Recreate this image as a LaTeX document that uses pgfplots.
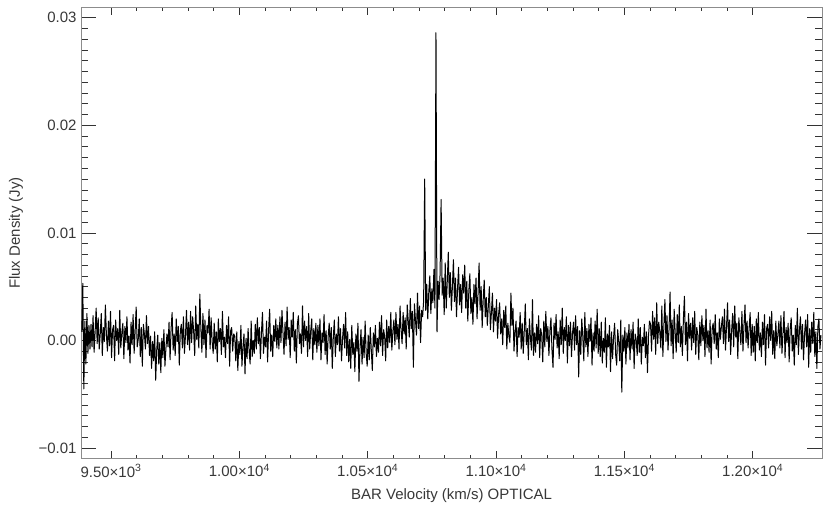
\documentclass[border=0pt]{standalone}
\usepackage{pgfplots}
\pgfplotsset{compat=1.18}
\usepackage{fontspec}
\setmainfont{Liberation Sans}
\begin{document}
\begin{tikzpicture}
\path[use as bounding box] (0,0) rectangle (830pt,507pt);
\begin{axis}[
  at={(81pt,49pt)}, anchor=south west,
  width=741pt, height=450pt, scale only axis,
  xmin=9383, xmax=12270, ymin=-0.01093, ymax=0.0309,
  scaled ticks=false,
  xtick={9500,10000,10500,11000,11500,12000},
  xticklabels={9.50×10\textsuperscript{3},1.00×10\textsuperscript{4},1.05×10\textsuperscript{4},1.10×10\textsuperscript{4},1.15×10\textsuperscript{4},1.20×10\textsuperscript{4}},
  minor x tick num=4,
  ytick={-0.01,0,0.01,0.02,0.03},
  yticklabels={−0.01,0.00,0.01,0.02,0.03},
  minor y tick num=9,
  tick align=inside,
  axis line style={draw=black!45, line width=1pt},
  xtick style={draw=black!80, line width=0.6pt, /pgfplots/major tick length=7pt, /pgfplots/minor tick length=3.5pt},
  ytick style={draw=black!80, line width=0.6pt, /pgfplots/major tick length=15pt, /pgfplots/minor tick length=7pt},
  every tick label/.append style={font=\fontsize{15}{18}\selectfont, text=black!78},
  xticklabel style={anchor=north, yshift=-3pt},
  yticklabel style={anchor=east, xshift=-1pt},
  xlabel={BAR Velocity (km/s) OPTICAL},
  ylabel={Flux Density (Jy)},
  label style={font=\fontsize{15}{18}\selectfont, text=black!78},
  xlabel style={at={(axis description cs:0.5,0)}, anchor=base, yshift=-41pt},
  ylabel style={at={(axis description cs:-0.0877,0.5)}, anchor=center},
]
\addplot[black, line width=1pt, line join=round, mark=none] coordinates {
(9386,8e-4) (9390,53e-4) (9394,-45e-4) (9398,18e-4) (9402,-22e-4) (9406,25e-4) (9410,-12e-4) (9414,14e-4) (9418,-8e-4)
(9422,15e-4) (9426,-6e-4) (9430,23e-4) (9434,-11e-4) (9438,8e-4) (9442,30e-4) (9446,-3e-4) (9450,21e-4) (9454,-8e-4) (9458,6e-4)
(9462,25e-4) (9466,-14e-4) (9470,12e-4) (9474,-1e-4) (9478,33e-4) (9482,5e-4) (9486,-10e-4) (9490,18e-4) (9494,-5e-4) (9498,27e-4)
(9502,-16e-4) (9506,10e-4) (9510,14e-4) (9514,-19e-4) (9518,19e-4) (9522,0) (9526,11e-4) (9530,-13e-4) (9534,28e-4) (9538,-7e-4)
(9542,7e-4) (9546,16e-4) (9550,-17e-4) (9554,13e-4) (9558,-2e-4) (9562,22e-4) (9566,-9e-4) (9570,4e-4) (9574,-21e-4) (9578,17e-4)
(9582,-4e-4) (9586,24e-4) (9590,-12e-4) (9594,9e-4) (9598,31e-4) (9602,-6e-4) (9606,1e-4) (9610,20e-4) (9614,-15e-4) (9618,12e-4)
(9622,-24e-4) (9626,15e-4) (9630,6e-4) (9634,-8e-4) (9638,23e-4) (9642,-3e-4) (9646,13e-4)
(9650,-14e-4) (9654,4e-4) (9658,-26e-4) (9662,-1e-4) (9666,-19e-4) (9670,8e-4) (9674,-37e-4) (9678,-9e-4) (9682,5e-4) (9686,-22e-4)
(9690,-2e-4) (9694,-30e-4) (9698,2e-4) (9702,-16e-4) (9706,10e-4) (9710,-24e-4) (9714,-7e-4) (9718,6e-4)
(9722,-6e-4) (9726,17e-4) (9730,-18e-4) (9734,11e-4) (9738,26e-4) (9742,-9e-4) (9746,6e-4) (9750,-14e-4) (9754,20e-4) (9758,-1e-4)
(9762,13e-4) (9766,-23e-4) (9770,9e-4) (9774,15e-4) (9778,-7e-4) (9782,22e-4) (9786,-12e-4) (9790,4e-4) (9794,28e-4) (9798,-4e-4)
(9802,17e-4) (9806,-9e-4) (9810,27e-4) (9814,-2e-4) (9818,22e-4) (9822,8e-4) (9826,-14e-4) (9830,32e-4) (9834,1e-4) (9838,15e-4)
(9842,-7e-4) (9846,43e-4) (9850,11e-4) (9854,-11e-4) (9858,25e-4) (9862,-4e-4) (9866,19e-4) (9870,-16e-4) (9874,14e-4) (9878,7e-4)
(9882,29e-4) (9886,-8e-4) (9890,21e-4) (9894,-1e-4) (9898,-12e-4)
(9902,16e-4) (9906,-8e-4) (9910,8e-4) (9914,-20e-4) (9918,20e-4) (9922,-1e-4) (9926,11e-4) (9930,-13e-4) (9934,27e-4) (9938,-6e-4)
(9942,3e-4) (9946,-16e-4) (9950,14e-4) (9954,-3e-4) (9958,22e-4) (9962,-24e-4) (9966,9e-4) (9970,12e-4) (9974,-10e-4) (9978,6e-4)
(9982,4e-4) (9986,-19e-4) (9990,8e-4) (9994,-28e-4) (9998,-1e-4) (10002,-13e-4) (10006,14e-4) (10010,-24e-4) (10014,-6e-4) (10018,6e-4)
(10022,-31e-4) (10026,2e-4) (10030,-17e-4) (10034,11e-4) (10038,-10e-4) (10042,-22e-4) (10046,18e-4) (10050,-15e-4) (10054,0) (10058,-12e-4)
(10062,15e-4) (10066,-8e-4) (10070,21e-4) (10074,-3e-4) (10078,12e-4) (10082,-17e-4) (10086,7e-4) (10090,26e-4) (10094,-12e-4) (10098,3e-4)
(10102,-6e-4) (10106,18e-4) (10110,-20e-4) (10114,10e-4) (10118,29e-4) (10122,-10e-4) (10126,5e-4) (10130,-15e-4) (10134,14e-4) (10138,-1e-4)
(10142,20e-4) (10146,-7e-4)
(10150,14e-4) (10154,-8e-4) (10158,22e-4) (10162,-2e-4) (10166,28e-4) (10170,7e-4) (10174,-13e-4) (10178,17e-4) (10182,-5e-4) (10186,31e-4)
(10190,1e-4) (10194,12e-4) (10198,-16e-4) (10202,19e-4) (10206,3e-4) (10210,26e-4) (10214,-10e-4) (10218,10e-4) (10222,-21e-4) (10226,15e-4)
(10230,23e-4) (10234,-3e-4) (10238,6e-4) (10242,-12e-4) (10246,32e-4) (10250,-6e-4) (10254,18e-4) (10258,0) (10262,13e-4) (10266,-15e-4)
(10270,25e-4) (10274,-8e-4) (10278,9e-4) (10282,20e-4) (10286,-18e-4) (10290,11e-4) (10294,-4e-4) (10298,16e-4)
(10302,-11e-4) (10306,14e-4) (10310,-5e-4) (10314,20e-4) (10318,-18e-4) (10322,7e-4) (10326,-2e-4) (10330,24e-4) (10334,-13e-4) (10338,9e-4)
(10342,-22e-4) (10346,4e-4) (10350,16e-4) (10354,-8e-4) (10358,12e-4) (10362,-26e-4) (10366,3e-4) (10370,19e-4) (10374,-15e-4) (10378,6e-4)
(10382,-4e-4) (10386,22e-4) (10390,-10e-4) (10394,11e-4) (10398,-19e-4) (10402,2e-4) (10406,15e-4) (10410,-7e-4) (10414,26e-4) (10418,-14e-4)
(10422,8e-4) (10426,-20e-4) (10430,1e-4) (10434,-26e-4) (10438,14e-4) (10442,-13e-4) (10446,-2e-4) (10450,-29e-4) (10454,6e-4) (10458,-10e-4)
(10462,16e-4) (10466,-38e-4) (10470,-7e-4) (10474,10e-4) (10478,-22e-4) (10482,3e-4) (10486,-16e-4) (10490,18e-4) (10494,-12e-4) (10498,-24e-4)
(10502,5e-4) (10506,-18e-4) (10510,12e-4) (10514,-9e-4) (10518,-28e-4) (10522,7e-4) (10526,-6e-4) (10530,14e-4) (10534,-15e-4) (10538,2e-4)
(10542,-11e-4) (10546,17e-4) (10550,-5e-4) (10554,23e-4) (10558,-14e-4) (10562,10e-4) (10566,4e-4) (10570,-19e-4) (10574,19e-4) (10578,-7e-4)
(10582,13e-4) (10586,-2e-4) (10590,26e-4) (10594,-9e-4) (10598,8e-4)
(10602,19e-4) (10606,-4e-4) (10610,26e-4) (10614,1e-4) (10618,15e-4) (10622,-8e-4) (10626,32e-4) (10630,10e-4) (10634,-3e-4) (10638,26e-4)
(10642,6e-4) (10646,21e-4) (10650,-8e-4) (10654,33e-4) (10658,18e-4) (10662,3e-4) (10666,39e-4) (10670,11e-4) (10674,27e-4) (10678,-25e-4)
(10682,34e-4) (10686,19e-4) (10690,5e-4) (10694,44e-4) (10698,11e-4) (10702,32e-4) (10706,-2e-4) (10710,28e-4) (10714,22e-4) (10718,37e-4)
(10722,150e-4) (10726,28e-4) (10730,52e-4) (10734,20e-4) (10738,45e-4) (10742,60e-4) (10746,25e-4) (10750,48e-4) (10754,35e-4) (10758,66e-4)
(10762,30e-4) (10766,286e-4) (10770,8e-4) (10774,55e-4) (10778,38e-4) (10782,62e-4) (10786,131e-4) (10790,42e-4) (10794,58e-4) (10798,24e-4)
(10802,72e-4) (10806,30e-4) (10810,55e-4) (10814,82e-4) (10818,40e-4) (10822,63e-4) (10826,28e-4) (10830,50e-4) (10834,75e-4) (10838,36e-4)
(10842,58e-4) (10846,22e-4) (10850,48e-4) (10854,68e-4) (10858,33e-4) (10862,52e-4) (10866,26e-4) (10870,61e-4) (10874,44e-4) (10878,70e-4)
(10882,30e-4) (10886,55e-4) (10890,18e-4) (10894,46e-4) (10898,62e-4) (10902,25e-4) (10906,40e-4) (10910,15e-4) (10914,52e-4) (10918,34e-4)
(10922,58e-4) (10926,20e-4) (10930,44e-4) (10934,72e-4) (10938,28e-4) (10942,50e-4) (10946,12e-4) (10950,38e-4) (10954,56e-4) (10958,22e-4)
(10962,40e-4) (10966,14e-4) (10970,32e-4) (10974,50e-4) (10978,10e-4) (10982,26e-4) (10986,44e-4) (10990,8e-4) (10994,30e-4) (10998,18e-4)
(11002,38e-4) (11006,2e-4) (11010,24e-4) (11014,35e-4) (11018,6e-4) (11022,20e-4) (11026,-4e-4) (11030,28e-4) (11034,12e-4) (11038,32e-4)
(11042,-8e-4) (11046,16e-4) (11050,4e-4)
(11054,-2e-4) (11058,44e-4) (11062,14e-4) (11066,30e-4) (11070,-10e-4) (11074,8e-4) (11078,18e-4) (11082,-15e-4) (11086,12e-4) (11090,3e-4)
(11094,26e-4) (11098,-8e-4) (11102,16e-4) (11106,-12e-4) (11110,9e-4) (11114,34e-4) (11118,-4e-4) (11122,11e-4) (11126,-18e-4) (11130,20e-4)
(11134,2e-4) (11138,-9e-4) (11142,38e-4) (11146,-14e-4) (11150,7e-4)
(11154,-11e-4) (11158,15e-4) (11162,-3e-4) (11166,23e-4) (11170,-16e-4) (11174,11e-4) (11178,5e-4) (11182,-20e-4) (11186,18e-4) (11190,-6e-4)
(11194,27e-4) (11198,-1e-4) (11202,13e-4) (11206,-14e-4) (11210,9e-4) (11214,21e-4) (11218,-9e-4) (11222,-25e-4) (11226,16e-4) (11230,1e-4)
(11234,24e-4) (11238,-7e-4) (11242,8e-4) (11246,-17e-4) (11250,19e-4) (11254,-4e-4) (11258,30e-4) (11262,-12e-4) (11266,12e-4) (11270,0)
(11274,22e-4) (11278,-21e-4) (11282,14e-4) (11286,-5e-4) (11290,17e-4) (11294,-15e-4) (11298,7e-4)
(11302,17e-4) (11306,-9e-4) (11310,23e-4) (11314,-4e-4) (11318,13e-4) (11322,-34e-4) (11326,9e-4) (11330,-13e-4) (11334,20e-4) (11338,4e-4)
(11342,-19e-4) (11346,26e-4) (11350,-6e-4) (11354,11e-4) (11358,-15e-4) (11362,15e-4) (11366,-1e-4) (11370,21e-4) (11374,-23e-4) (11378,7e-4)
(11382,-10e-4) (11386,18e-4) (11390,-7e-4) (11394,29e-4) (11398,-12e-4)
(11402,11e-4) (11406,-15e-4) (11410,17e-4) (11414,-21e-4) (11418,2e-4) (11422,-11e-4) (11426,21e-4) (11430,-25e-4) (11434,6e-4) (11438,-6e-4)
(11442,14e-4) (11446,-29e-4) (11450,8e-4) (11454,-17e-4) (11458,3e-4) (11462,16e-4) (11466,-13e-4) (11470,-23e-4) (11474,10e-4) (11478,-1e-4)
(11482,-19e-4) (11486,19e-4) (11490,-48e-4) (11494,5e-4) (11498,-10e-4) (11502,12e-4) (11506,-22e-4) (11510,7e-4) (11514,-7e-4) (11518,15e-4)
(11522,-18e-4) (11526,10e-4) (11530,-8e-4) (11534,17e-4) (11538,-26e-4) (11542,6e-4) (11546,1e-4) (11550,-14e-4) (11554,20e-4) (11558,-11e-4)
(11562,12e-4) (11566,-22e-4) (11570,3e-4) (11574,-5e-4) (11578,15e-4) (11582,-16e-4) (11586,8e-4) (11590,-30e-4) (11594,4e-4) (11598,18e-4)
(11602,15e-4) (11606,-10e-4) (11610,27e-4) (11614,1e-4) (11618,21e-4) (11622,-13e-4) (11626,35e-4) (11630,-3e-4) (11634,17e-4) (11638,8e-4)
(11642,-7e-4) (11646,32e-4) (11650,-15e-4) (11654,14e-4) (11658,38e-4) (11662,-1e-4) (11666,23e-4) (11670,-9e-4) (11674,10e-4) (11678,45e-4)
(11682,-5e-4) (11686,19e-4) (11690,-17e-4) (11694,29e-4) (11698,7e-4) (11702,-11e-4) (11706,24e-4) (11710,-2e-4) (11714,33e-4) (11718,-6e-4)
(11722,13e-4) (11726,-14e-4) (11730,20e-4) (11734,41e-4) (11738,-4e-4) (11742,17e-4) (11746,-19e-4) (11750,25e-4) (11754,2e-4) (11758,16e-4)
(11762,-9e-4) (11766,21e-4) (11770,-2e-4) (11774,27e-4) (11778,-13e-4) (11782,12e-4) (11786,5e-4) (11790,-18e-4) (11794,17e-4) (11798,-5e-4)
(11802,23e-4) (11806,0) (11810,14e-4) (11814,-15e-4) (11818,29e-4) (11822,-7e-4) (11826,9e-4) (11830,-11e-4) (11834,19e-4) (11838,-22e-4)
(11842,11e-4) (11846,16e-4) (11850,-3e-4) (11854,24e-4) (11858,-8e-4) (11862,7e-4) (11866,-16e-4) (11870,20e-4) (11874,1e-4) (11878,13e-4)
(11882,22e-4) (11886,-3e-4) (11890,29e-4) (11894,-9e-4) (11898,13e-4) (11902,35e-4) (11906,-1e-4) (11910,19e-4) (11914,-13e-4) (11918,10e-4)
(11922,25e-4) (11926,-6e-4) (11930,32e-4) (11934,3e-4) (11938,16e-4) (11942,-17e-4) (11946,21e-4) (11950,8e-4) (11954,-4e-4) (11958,27e-4)
(11962,-10e-4) (11966,14e-4) (11970,33e-4) (11974,-2e-4) (11978,18e-4) (11982,-7e-4) (11986,11e-4) (11990,26e-4) (11994,-14e-4) (11998,15e-4)
(12002,-11e-4) (12006,13e-4) (12010,-19e-4) (12014,20e-4) (12018,-2e-4) (12022,26e-4) (12026,-9e-4) (12030,7e-4) (12034,-15e-4) (12038,17e-4)
(12042,-4e-4) (12046,24e-4) (12050,-23e-4) (12054,11e-4) (12058,15e-4) (12062,-7e-4) (12066,22e-4) (12070,0) (12074,27e-4) (12078,-13e-4)
(12082,9e-4) (12086,-17e-4) (12090,18e-4) (12094,-5e-4) (12098,5e-4)
(12102,18e-4) (12106,-7e-4) (12110,23e-4) (12114,-12e-4) (12118,7e-4) (12122,27e-4) (12126,-16e-4) (12130,12e-4) (12134,-2e-4) (12138,16e-4)
(12142,-20e-4) (12146,10e-4) (12150,21e-4) (12154,-10e-4) (12158,5e-4) (12162,-23e-4) (12166,14e-4) (12170,-4e-4) (12174,30e-4) (12178,-13e-4)
(12182,9e-4) (12186,22e-4) (12190,-8e-4) (12194,15e-4) (12198,-18e-4) (12202,6e-4) (12206,19e-4) (12210,-6e-4) (12214,24e-4) (12218,-25e-4)
(12222,11e-4) (12226,-11e-4) (12230,17e-4) (12234,-3e-4) (12238,26e-4) (12242,-15e-4) (12246,8e-4) (12250,-26e-4) (12254,13e-4) (12258,20e-4)
(12262,-8e-4) (12266,5e-4)
};
\end{axis}
\end{tikzpicture}
\end{document}
